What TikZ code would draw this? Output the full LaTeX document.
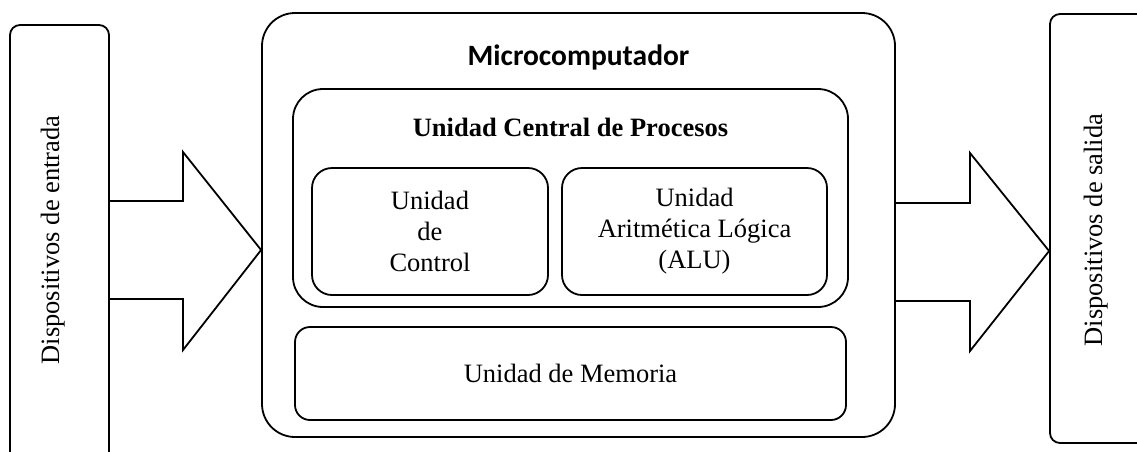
\documentclass[tikz,border=0pt]{standalone}
\usepackage{fontspec}
\setmainfont{Liberation Serif}
\newfontfamily\titlefont{Carlito}
\begin{document}
\begin{tikzpicture}[x=1pt, y=-1pt, line width=1.8pt,
    every node/.style = {shape=rectangle, align=center, inner sep=0pt,
      font=\fontsize{26.5}{31}\selectfont},
    caja/.style = {draw, rounded corners=#1},
    flecha/.style = {draw, line join=miter}]
    \clip (0,0) rectangle (1137,451);
    % cajas de los dispositivos
    \node[caja=10pt, minimum width=99, minimum height=455] (entrada) at (59.5,252.5) {};
    \node[caja=10pt, minimum width=110, minimum height=429] (salida) at (1105,228.5) {};
    \node[rotate=90, anchor=base] (entradatxt) at (59,240) {Dispositivos de entrada};
    \node[rotate=90, anchor=base] (salidatxt) at (1102,230) {Dispositivos de salida};
    % microcomputador
    \node[caja=33pt, minimum width=633, minimum height=424] (micro) at (578.5,225) {};
    \node[anchor=base, font=\titlefont\bfseries\fontsize{29.5}{34}\selectfont] (microtxt) at (578.5,65) {Microcomputador};
    \node[caja=30pt, minimum width=555, minimum height=218] (cpu) at (570.5,198) {};
    \node[anchor=base, font=\bfseries\fontsize{26.5}{31}\selectfont] (cputxt) at (570.5,136) {Unidad Central de Procesos};
    \node[caja=20pt, minimum width=236, minimum height=127] (control) at (430,231.5) {Unidad\\de\\Control};
    \node[caja=20pt, minimum width=265, minimum height=127] (alu) at (694.5,231.5) {Unidad\\Aritmética Lógica\\(ALU)};
    \node[caja=15pt, minimum width=551, minimum height=93] (memoria) at (570.5,373.5) {Unidad de Memoria};
    % flechas
    \draw[flecha] (entrada.east |- 0,201) -- (183,201) -- (183,152) -- (micro.west |- 0,250)
        -- (183,350) -- (183,299) -- (entrada.east |- 0,299);
    \draw[flecha] (micro.east |- 0,203) -- (970,203) -- (970,153) -- (salida.west |- 0,251)
        -- (970,351) -- (970,301) -- (micro.east |- 0,301);
\end{tikzpicture}
\end{document}
